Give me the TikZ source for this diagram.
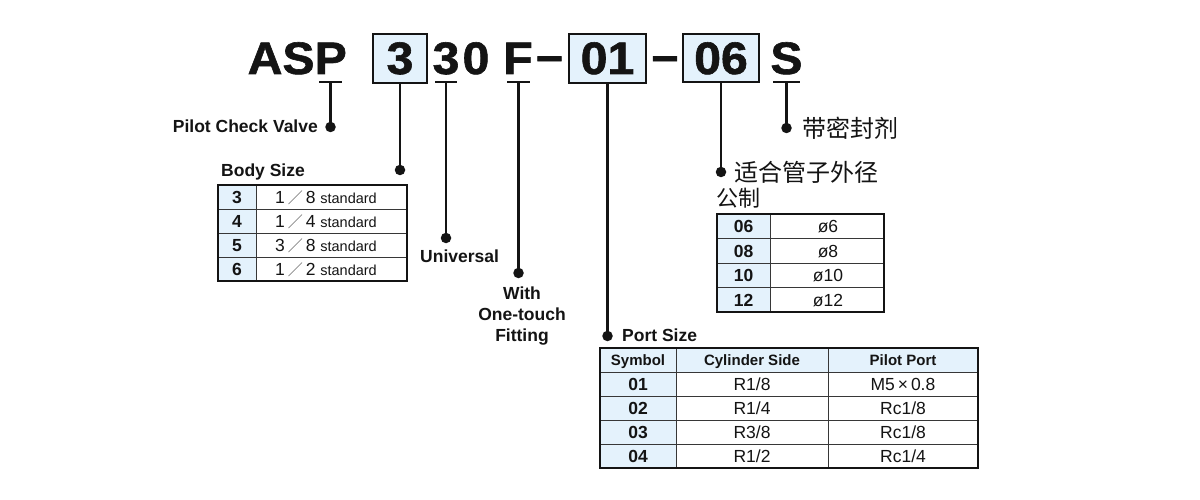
\documentclass[tikz,border=0pt]{standalone}
\usepackage{fontspec}
\setmainfont{Liberation Sans}
\newfontfamily\cjk{Noto Sans CJK SC}
\newfontfamily\heavy[FakeBold=1.3,FakeStretch=1.06]{Liberation Sans Bold}
\definecolor{lb}{RGB}{228,242,252}
\definecolor{ink}{RGB}{20,20,20}
\newcommand{\frsl}{{\cjk\fontsize{15}{15}\selectfont\color{black!65}／}}
\begin{document}
\begin{tikzpicture}[x=1pt,y=-1pt,
  big/.style={font=\heavy\fontsize{45.5}{45.5}\selectfont, inner sep=0pt, anchor=base, text=ink},
  codebox/.style={draw=ink, line width=2pt, fill=lb, inner sep=0pt},
  stem/.style={line width=2.3pt, draw=ink},
  uline/.style={line width=2.3pt, draw=ink},
  dot/.style={circle, fill=ink, inner sep=0pt, minimum size=10.5pt},
  lbl/.style={font=\fontsize{17.5}{21}\selectfont\bfseries, inner sep=0pt, text=ink},
  cjklbl/.style={font=\cjk\fontsize{24}{24}\selectfont, inner sep=0pt, text=ink},
  cellb/.style={font=\fontsize{17.5}{17.5}\selectfont\bfseries, inner sep=0pt, text height=12.6pt, text depth=0pt, text=ink},
  cellr/.style={font=\fontsize{17.5}{17.5}\selectfont, inner sep=0pt, text height=12.6pt, text depth=0pt, text=ink},
  cellh/.style={font=\fontsize{15}{15}\selectfont\bfseries, inner sep=0pt, text height=10.8pt, text depth=0pt, text=ink},
  outer/.style={draw=ink, line width=1.6pt},
  inner/.style={draw=ink!85, line width=1pt}
]
\path[use as bounding box, fill=white] (0,0) rectangle (1200,500);

% ---------- code line ----------
\node[codebox, minimum width=54pt, minimum height=49pt] (box3) at (400,58.5) {};
\node[codebox, minimum width=77pt, minimum height=49pt] (box01) at (607.5,58.5) {};
\node[codebox, minimum width=76pt, minimum height=48pt] (box06) at (721,58) {};

\node[big, anchor=base east] (cASP) at (347,74) {ASP};
\node[big] (c3a) at (400,74) {3};
\node[big] (c3b) at (446,74) {3};
\node[big] (c0) at (476,74) {0};
\node[big] (cF) at (518,74) {F};
\node[big] (cd1) at (549.5,71) {–};
\node[big] (c01) at (607.5,74) {01};
\node[big] (cd2) at (665,71) {–};
\node[big] (c06) at (721,74) {06};
\node[big] (cS) at (786.5,74) {S};

% underlines
\coordinate (uP) at (330.5,82);
\coordinate (u3) at (446,82);
\coordinate (uF) at (518.5,82);
\coordinate (uS) at (786.5,82);
\draw[uline] (319,82) -- (342,82);
\draw[uline] (435,82) -- (457,82);
\draw[uline] (507,82) -- (530,82);
\draw[uline] (773,82) -- (800,82);

% dots
\node[dot] (dP) at (330.5,127) {};
\node[dot] (d3a) at (400,170) {};
\node[dot] (d3b) at (446,238) {};
\node[dot] (dF) at (518.5,273) {};
\node[dot] (d01) at (607.5,336) {};
\node[dot] (d06) at (721,172) {};
\node[dot] (dS) at (786.5,128) {};

% stems
\draw[stem] (uP) -- (dP.center);
\draw[stem] (box3.south) -- (d3a.center);
\draw[stem] (u3) -- (d3b.center);
\draw[stem] (uF) -- (dF.center);
\draw[stem] (box01.south) -- (d01.center);
\draw[stem] (box06.south) -- (d06.center);
\draw[stem] (uS) -- (dS.center);

% ---------- labels ----------
\node[lbl, anchor=east] (lPilot) at (318,126) {Pilot Check Valve};
\node[lbl, anchor=west] (lBody) at (221,172) {Body Size};
\node[lbl, anchor=west] (lUni) at (420,256) {Universal};
\node[lbl, align=center, anchor=north] (lWith) at (522,287) {With\\One-touch\\Fitting};
\node[lbl, anchor=west] (lPort) at (622,335) {Port Size};
\node[cjklbl, anchor=west] (lSeal) at (802,128) {带密封剂};
\node[cjklbl, anchor=west] (lTube) at (734,172) {适合管子外径};
\node[cjklbl, font=\cjk\fontsize{22}{22}\selectfont, anchor=west] (lMet) at (716,198) {公制};

% ---------- Body size table ----------
\fill[lb] (218,185) rectangle (256,281);
\foreach \y in {209,233,257} \draw[inner] (218,\y) -- (407,\y);
\draw[inner] (256,185) -- (256,281);
\draw[outer] (218,185) rectangle (407,281);
\foreach \r/\a/\b [count=\i] in {3/1/8, 4/1/4, 5/3/8, 6/1/2} {
  \node[cellb] (bs\i a) at (237,{185+24*(\i-1)+12}) {\r};
  \node[cellr] (bs\i b) at (326,{185+24*(\i-1)+12}) {\a\,\frsl\,\b\ {\fontsize{14.5}{14.5}\selectfont standard}};
}

% ---------- Metric table ----------
\fill[lb] (717,214) rectangle (770,312);
\foreach \y in {238.5,263,287.5} \draw[inner] (717,\y) -- (884,\y);
\draw[inner] (770,214) -- (770,312);
\draw[outer] (717,214) rectangle (884,312);
\foreach \r/\v [count=\i] in {06/6, 08/8, 10/10, 12/12} {
  \node[cellb] (mt\i a) at (743.5,{214+24.5*(\i-1)+12.25}) {\r};
  \node[cellr] (mt\i b) at (828,{214+24.5*(\i-1)+12.25}) {ø\v};
}

% ---------- Port size table ----------
\fill[lb] (600,348) rectangle (978,372);
\fill[lb] (600,348) rectangle (676,468);
\foreach \y in {372,396,420,444} \draw[inner] (600,\y) -- (978,\y);
\draw[inner] (676,348) -- (676,468);
\draw[inner] (828,348) -- (828,468);
\draw[outer] (600,348) rectangle (978,468);
\node[cellh] (ph1) at (638,360) {Symbol};
\node[cellh] (ph2) at (752,360) {Cylinder Side};
\node[cellh] (ph3) at (903,360) {Pilot Port};
\foreach \s/\c/\p [count=\i] in {01/R1\slash8/M5\,×\,0.8, 02/R1\slash4/Rc1\slash8, 03/R3\slash8/Rc1\slash8, 04/R1\slash2/Rc1\slash4} {
  \node[cellb] (pt\i a) at (638,{372+24*(\i-1)+12}) {\s};
  \node[cellr] (pt\i b) at (752,{372+24*(\i-1)+12}) {\c};
  \node[cellr] (pt\i c) at (903,{372+24*(\i-1)+12}) {\p};
}
\end{tikzpicture}
\end{document}
